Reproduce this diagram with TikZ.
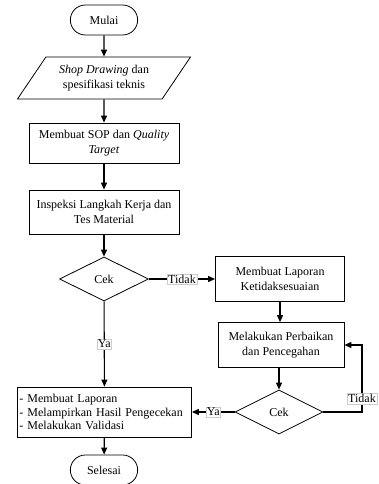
\documentclass[tikz,border=0pt]{standalone}
\usepackage{fontspec}
\setmainfont{Liberation Serif}
\usetikzlibrary{arrows.meta,positioning,shapes.geometric,shapes.misc}
\tikzset{%
  base/.style={draw, line width=0.8pt, align=center, font=\fontsize{12}{15.5}\selectfont},
  terminal/.style={base, rounded rectangle, minimum width=74pt, minimum height=30pt},
  io/.style={base, trapezium, trapezium left angle=45, trapezium right angle=135,
    trapezium stretches body, minimum width=173pt, minimum height=42pt, inner sep=1pt},
  proc/.style={base, rectangle, inner sep=2pt},
  decision/.style={base, diamond, inner sep=0pt, minimum width=89pt, minimum height=44pt},
  arrow/.style={line width=1.1pt, -{Triangle[width=6pt,length=7pt]}},
  tag/.style={fill=white, draw=gray!40, line width=0.4pt, inner sep=1pt,
    font=\fontsize{12}{13}\selectfont},
}

\begin{document}
\begin{tikzpicture}[x=1pt, y=-1pt]
    \useasboundingbox (0,0) rectangle (379,484);

    \node[terminal] (mulai) at (104,20) {Mulai};
    \node[io] (input) at (104,78) {\textit{Shop Drawing} dan\\ spesifikasi teknis};
    \node[proc, minimum width=150pt, minimum height=40pt] (sop) at (104,143)
      {Membuat SOP dan \textit{Quality}\\ \textit{Target}};
    \node[proc, minimum width=150pt, minimum height=44pt] (inspeksi) at (104,212)
      {Inspeksi Langkah Kerja dan\\ Tes Material};
    \node[decision] (cek1) at (104,279) {Cek};
    \node[proc, minimum width=129pt, minimum height=45pt] (laporan) at (280,279)
      {Membuat Laporan\\ Ketidaksesuaian};
    \node[proc, minimum width=126pt, minimum height=45pt] (perbaikan) at (281,345)
      {Melakukan Perbaikan\\ dan Pencegahan};
    \node[decision, minimum width=88pt] (cek2) at (279,412) {Cek};
    \node[proc, align=left, text width=170pt, minimum height=50pt,
      font=\fontsize{12}{13.5}\selectfont] (akhir) at (104.5,412)
      {- Membuat Laporan\\ - Melampirkan Hasil Pengecekan\\ - Melakukan Validasi};
    \node[terminal] (selesai) at (104,470) {Selesai};
    \coordinate (putar) at (362,412);

    \draw[arrow] (mulai) -- (input);
    \draw[arrow] (input) -- (sop);
    \draw[arrow] (sop) -- (inspeksi);
    \draw[arrow] (inspeksi) -- (cek1);
    \draw[arrow] (cek1) -- (laporan) node[tag, midway] {Tidak};
    \draw[arrow] (cek1) -- (akhir) node[tag, midway] {Ya};
    \draw[arrow] (laporan) -- (laporan |- perbaikan.north);
    \draw[arrow] (perbaikan.south -| cek2) -- (cek2);
    \draw[arrow] (cek2) -- (akhir) node[tag, midway] {Ya};
    \draw[arrow] (cek2.east) -- (putar) |- (perbaikan.east) node[tag, pos=0.1] {Tidak};
    \draw[arrow] (akhir) -- (selesai);
\end{tikzpicture}
\end{document}
